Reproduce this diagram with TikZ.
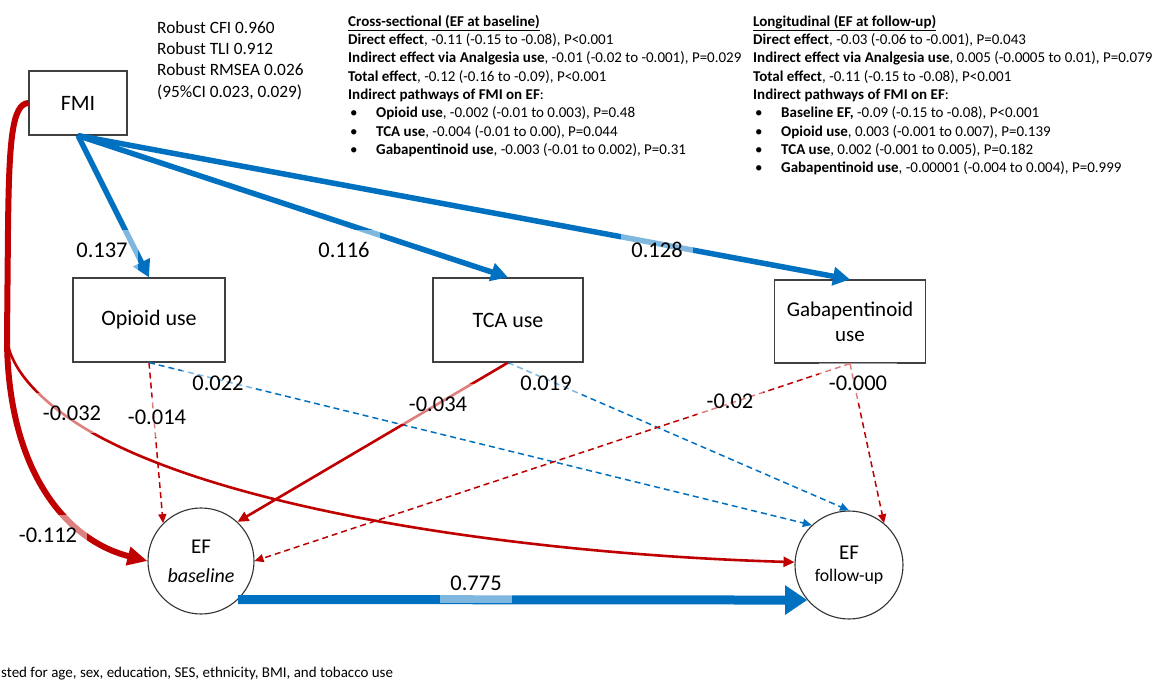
\documentclass[tikz,border=0pt]{standalone}
\usepackage{fontspec}
\setmainfont{Carlito}
\usetikzlibrary{arrows.meta,calc}

\definecolor{pathblue}{RGB}{0,112,192}
\definecolor{pathred}{RGB}{192,0,0}
\definecolor{boxgray}{RGB}{64,64,64}

\newcommand{\itembul}{\hspace*{2pt}\makebox[26pt][l]{\textbullet}}

\tikzset{
  varbox/.style={draw=boxgray, line width=1.2pt, inner sep=0pt, align=center,
    font=\fontsize{22}{25}\selectfont},
  latent/.style={circle, draw=black!80, line width=1.1pt, inner sep=0pt, align=center,
    font=\fontsize{21}{26}\selectfont},
  coef/.style={fill=white, fill opacity=0.5, text opacity=1, inner xsep=10pt,
    minimum height=40pt, font=\fontsize{22.5}{26}\selectfont},
  infotext/.style={anchor=north west, inner sep=0pt, align=left,
    font=\fontsize{15}{18.3}\selectfont},
  fittext/.style={anchor=north west, inner sep=0pt, align=left,
    font=\fontsize{17.3}{21.3}\selectfont},
  bluemain/.style={draw=pathblue, line width=5.5pt, -{Triangle[length=17pt,width=18pt]}},
  bluebase/.style={draw=pathblue, line width=9pt, -{Triangle[length=22pt,width=28pt]}},
  redmain/.style={draw=pathred, line width=6pt, -{Triangle[length=20pt,width=18pt]}},
  redthin/.style={draw=pathred, line width=2.6pt, -{Triangle[length=11pt,width=10pt]}},
  reddash/.style={draw=pathred, line width=1.5pt, dash pattern=on 6pt off 4pt,
    -{Triangle[length=9pt,width=8pt]}},
  bluedash/.style={draw=pathblue, line width=1.5pt, dash pattern=on 6pt off 4pt,
    -{Triangle[length=9pt,width=8pt]}},
}

\begin{document}
\begin{tikzpicture}[x=1pt,y=-1pt]
\clip (0,0) rectangle (1159,682);
\fill[white] (0,0) rectangle (1159,682);

% variables
\node[varbox, minimum width=98pt, minimum height=64pt] (fmi) at (78,103) {FMI};
\node[varbox, minimum width=152pt, minimum height=84pt] (opioid) at (149,320) {Opioid use};
\node[varbox, minimum width=150pt, minimum height=84pt] (tca) at (508,320) {TCA use};
\node[varbox, minimum width=151pt, minimum height=83pt, font=\fontsize{21}{25}\selectfont]
  (gaba) at (850,321.5) {Gabapentinoid\\use};
\node[latent, minimum size=106pt] (ebase) at (201,561)
  {EF\\[3pt]{\fontsize{20}{22}\selectfont\itshape baseline}};
\node[latent, minimum size=108pt] (efu) at (849,565)
  {EF\\[-4pt]{\fontsize{17.8}{20}\selectfont follow-up}};

% FMI to the analgesic uses
\draw[bluemain] (fmi.south) -- (opioid.north);
\draw[bluemain] (fmi.south) -- (tca.north);
\draw[bluemain] (fmi.south) -- (gaba.north);

% analgesic uses to EF
\draw[reddash] (opioid.south) -- (ebase.135);
\draw[bluedash] (opioid.south) -- (efu.133);
\draw[bluedash] (tca.south) -- (efu.north);
\draw[reddash] (gaba.south) -- (ebase.east);
\draw[reddash] (gaba.south) -- (efu.50);
\draw[redthin] (tca.south) -- (ebase.47);

% FMI direct paths to EF
\draw[redthin] (fmi.west) .. controls (12,104) and (9,140) .. (8,230) -- (7,340)
  .. controls (12,375) and (50,410) .. (100,437)
  .. controls (250,517) and (550,555) .. (efu.177);
\draw[redmain] (fmi.west) .. controls (12,104) and (9,140) .. (8,230) -- (7,340)
  .. controls (8,470) and (65,540) .. (ebase.west);

% baseline EF to follow-up EF
\draw[bluebase] (ebase.-46) -- (efu.-140);

% path coefficients
\node[coef] (c1) at (102,250) {0.137};
\node[coef] (c2) at (344,250) {0.116};
\node[coef] (c3) at (657,250) {0.128};
\node[coef] (c4) at (48,535) {-0.112};
\node[coef] (c5) at (72,413) {-0.032};
\node[coef] (c6) at (157,417) {-0.014};
\node[coef] (c7) at (218,383) {0.022};
\node[coef] (c8) at (438,404) {-0.034};
\node[coef] (c9) at (546,383) {0.019};
\node[coef] (c10) at (730,401) {-0.02};
\node[coef] (c11) at (858,383) {-0.000};
\node[coef] (c12) at (476,583) {0.775};

% model fit
\node[fittext] (fit) at (157,21) {Robust CFI 0.960\\Robust TLI 0.912\\Robust RMSEA 0.026\\(95\%CI 0.023, 0.029)};

% effect summaries
\node[infotext] (xsec) at (348,15) {%
\underline{\textbf{Cross-sectional (EF at baseline)}}\\
\textbf{Direct effect}, -0.11 (-0.15 to -0.08), P<0.001\\
\textbf{Indirect effect via Analgesia use}, -0.01 (-0.02 to -0.001), P=0.029\\
\textbf{Total effect}, -0.12 (-0.16 to -0.09), P<0.001\\
\textbf{Indirect pathways of FMI on EF}:\\
\itembul\textbf{Opioid use}, -0.002 (-0.01 to 0.003), P=0.48\\
\itembul\textbf{TCA use}, -0.004 (-0.01 to 0.00), P=0.044\\
\itembul\textbf{Gabapentinoid use}, -0.003 (-0.01 to 0.002), P=0.31};

\node[infotext] (long) at (753,15) {%
\underline{\textbf{Longitudinal (EF at follow-up)}}\\
\textbf{Direct effect}, -0.03 (-0.06 to -0.001), P=0.043\\
\textbf{Indirect effect via Analgesia use}, 0.005 (-0.0005 to 0.01), P=0.079\\
\textbf{Total effect}, -0.11 (-0.15 to -0.08), P<0.001\\
\textbf{Indirect pathways of FMI on EF}:\\
\itembul\textbf{Baseline EF,} -0.09 (-0.15 to -0.08), P<0.001\\
\itembul\textbf{Opioid use}, 0.003 (-0.001 to 0.007), P=0.139\\
\itembul\textbf{TCA use}, 0.002 (-0.001 to 0.005), P=0.182\\
\itembul\textbf{Gabapentinoid use}, -0.00001 (-0.004 to 0.004), P=0.999};

% covariate note
\node[anchor=base west, inner sep=0pt, font=\fontsize{15}{18}\selectfont] (note) at (1,677.5)
  {sted for age, sex, education, SES, ethnicity, BMI, and tobacco use};
\end{tikzpicture}
\end{document}
